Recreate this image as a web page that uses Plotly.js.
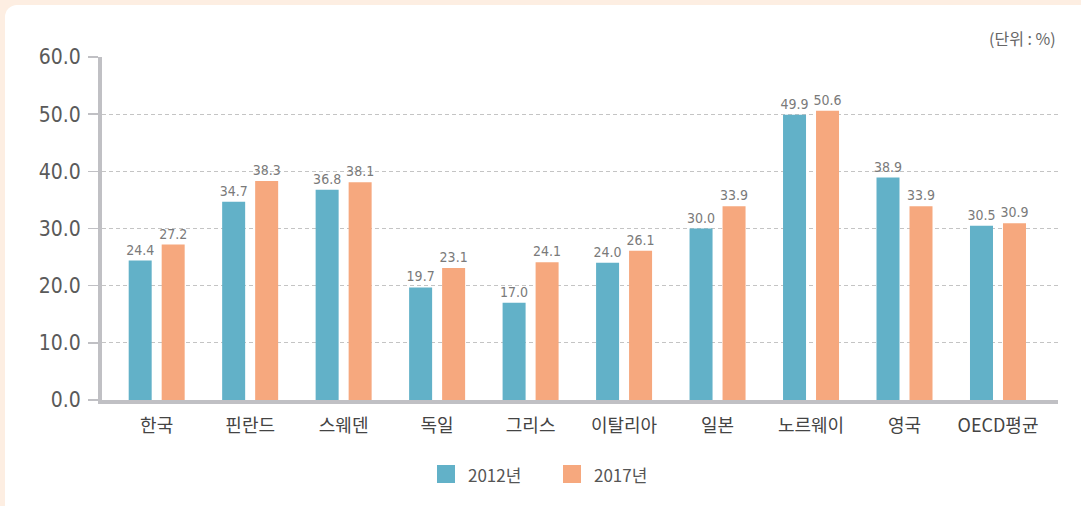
<!DOCTYPE html>
<html><head><meta charset="utf-8">
<script src="https://cdn.plot.ly/plotly-3.0.1.min.js"></script>
<style>
html,body{margin:0;padding:0;width:1081px;height:506px;overflow:hidden;background:#fdeee2;}
#panel{position:absolute;left:5px;top:5px;width:1100px;height:530px;background:#fff;border-radius:12px;}
#chart{position:absolute;left:0;top:0;width:1081px;height:506px;}
</style></head>
<body><div id="panel"></div><div id="chart"></div>
<script>
const categories = ['한국','핀란드','스웨덴','독일','그리스','이탈리아','일본','노르웨이','영국','OECD평균'];
const values2012 = [24.4, 34.7, 36.8, 19.7, 17.0, 24.0, 30.0, 49.9, 38.9, 30.5];
const values2017 = [27.2, 38.3, 38.1, 23.1, 24.1, 26.1, 33.9, 50.6, 33.9, 30.9];
const seriesNames = ['2012년','2017년'];
const seriesColors = ['#62b1c8','#f6a87e'];
const yTicks = [0,10,20,30,40,50,60];

const numFont = 'Liberation Sans Narrow, DejaVu Sans Condensed, Roboto, sans-serif';
const korFont = 'Noto Sans CJK KR, Noto Sans, sans-serif';

function bar(vals, name, color){
  return {
    type:'bar', x:categories, y:vals, name:name,
    marker:{color:color}, showlegend:false,
    text: vals.map(v=>v.toFixed(1)), textposition:'outside', constraintext:'none',
    textfont:{family:numFont, size:14, color:'#7a7a7a'},
    cliponaxis:false, hoverinfo:'none'
  };
}
const data = [bar(values2012, seriesNames[0], seriesColors[0]), bar(values2017, seriesNames[1], seriesColors[1])];

// plot area in pixels: x 102..1058, y 57..400
const L=102, W=956, T=57, H=343;
const px = v => (v-L)/W, py = v => (T+H-v)/H;
const legendX = [437, 563];
const shapes = [], annotations = [];
seriesNames.forEach((n,i)=>{
  shapes.push({type:'rect', xref:'paper', yref:'paper', x0:px(legendX[i]), x1:px(legendX[i]+18), y0:py(483), y1:py(465),
               fillcolor:seriesColors[i], line:{width:0}});
  annotations.push({xref:'paper', yref:'paper', x:px(legendX[i]+29), y:py(474), xanchor:'left', yanchor:'middle', showarrow:false,
               text:n, font:{family:korFont, size:17, color:'#555'}});
});
annotations.push({xref:'paper', yref:'paper', x:1, y:py(38), xanchor:'right', yanchor:'middle', showarrow:false,
                text:'(단위 : %)', font:{family:korFont, size:16, color:'#666'}});

const layout = {
  width:1081, height:506,
  margin:{l:L, r:1081-L-W, t:T, b:506-T-H},
  paper_bgcolor:'rgba(0,0,0,0)', plot_bgcolor:'rgba(0,0,0,0)',
  barmode:'group', bargap:0.294, bargroupgap:0.303,
  showlegend:false,
  xaxis:{type:'category', range:[-0.585, 9.642], showgrid:false, showline:true, linewidth:4, linecolor:'#c0c0c4',
         ticks:'', tickfont:{family:korFont, size:18, color:'#444'}, ticklabelstandoff:6, fixedrange:true},
  yaxis:{range:[0,60], tickvals:yTicks, ticktext:yTicks.map(v=>v.toFixed(1)), showgrid:true, gridcolor:'#c4c4c4', griddash:'4px,3px', gridwidth:1,
         zeroline:false, showline:true, linewidth:4, linecolor:'#c0c0c4', ticks:'outside', ticklen:10, tickwidth:1.5, tickcolor:'#c0c0c4',
         tickfont:{family:numFont, size:21, color:'#5a5a5a'}, ticklabelstandoff:3, fixedrange:true},
  shapes:shapes,
  annotations:annotations
};
Plotly.newPlot('chart', data, layout, {displayModeBar:false, staticPlot:true});
</script></body></html>
